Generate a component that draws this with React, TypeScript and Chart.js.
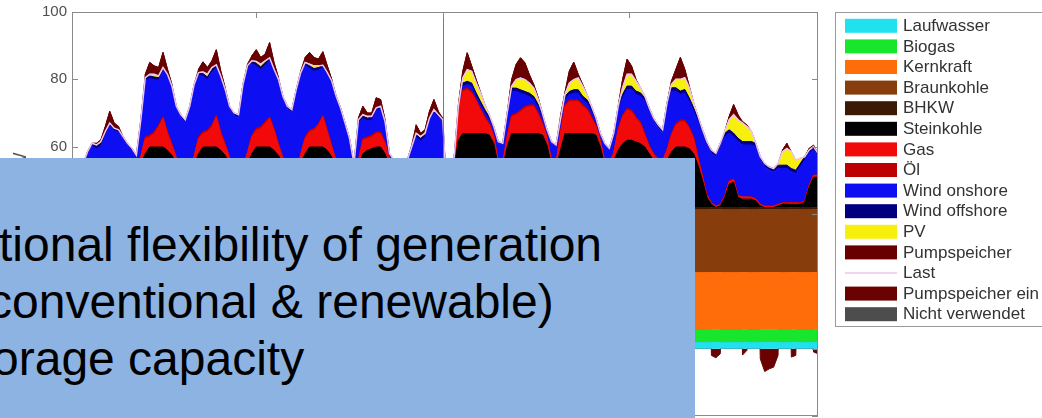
import React, { useEffect, useRef } from 'react';
import { Chart, registerables } from 'chart.js';
Chart.register(...registerables);

// x categories: simulation hours (axis runs 1..337; week 1 on even hours, week 2 on odd hours)
const hoursWeek1 = Array.from({ length: 84 }, (_, i) => 2 + 2 * i);
const hoursWeek2 = Array.from({ length: 85 }, (_, i) => 169 + 2 * i);
const hours = [...hoursWeek1, ...hoursWeek2];
const xMin = 1;
const xMax = 337;
const xTickHours = [84, 168, 252];
const weekBoundary = 168;

// series values in GW (one row per day)
const laufwasser = [
  1.8,1.8,1.8,1.8,1.8,1.8,1.8,1.8,1.8,1.8,1.8,1.8, 1.8,1.8,1.8,1.8,1.8,1.8,1.8,1.8,1.8,1.8,1.8,1.8,
  1.8,1.8,1.8,1.8,1.8,1.8,1.8,1.8,1.8,1.8,1.8,1.8, 1.8,1.8,1.8,1.8,1.8,1.8,1.8,1.8,1.8,1.8,1.8,1.8,
  1.8,1.8,1.8,1.8,1.8,1.8,1.8,1.8,1.8,1.8,1.8,1.8, 1.8,1.8,1.8,1.8,1.8,1.8,1.8,1.8,1.8,1.8,1.8,1.8,
  1.8,1.8,1.8,1.8,1.8,1.8,1.8,1.8,1.8,1.8,1.8,1.8, 1.8,1.8,1.8,1.8,1.8,1.8,1.8,1.8,1.8,1.8,1.8,1.8,
  1.8,1.8,1.8,1.8,1.8,1.8,1.8,1.8,1.8,1.8,1.8,1.8, 1.8,1.8,1.8,1.8,1.8,1.8,1.8,1.8,1.8,1.8,1.8,1.8,
  1.8,1.8,1.8,1.8,1.8,1.8,1.8,1.8,1.8,1.8,1.8,1.8, 1.8,1.8,1.8,1.8,1.8,1.8,1.8,1.8,1.8,1.8,1.8,1.8,
  1.8,1.8,1.8,1.8,1.8,1.8,1.8,1.8,1.8,1.8,1.8,1.8, 1.8,1.8,1.8,1.8,1.8,1.8,1.8,1.8,1.8,1.8,1.8,1.8, 1.8,
];
const biogas = [
  3.8,3.8,3.8,3.8,3.8,3.8,3.8,3.8,3.8,3.8,3.8,3.8, 3.8,3.8,3.8,3.8,3.8,3.8,3.8,3.8,3.8,3.8,3.8,3.8,
  3.8,3.8,3.8,3.8,3.8,3.8,3.8,3.8,3.8,3.8,3.8,3.8, 3.8,3.8,3.8,3.8,3.8,3.8,3.8,3.8,3.8,3.8,3.8,3.8,
  3.8,3.8,3.8,3.8,3.8,3.8,3.8,3.8,3.8,3.8,3.8,3.8, 3.8,3.8,3.8,3.8,3.8,3.8,3.8,3.8,3.8,3.8,3.8,3.8,
  3.8,3.8,3.8,3.8,3.8,3.8,3.8,3.8,3.8,3.8,3.8,3.8, 3.8,3.8,3.8,3.8,3.8,3.8,3.8,3.8,3.8,3.8,3.8,3.8,
  3.8,3.8,3.8,3.8,3.8,3.8,3.8,3.8,3.8,3.8,3.8,3.8, 3.8,3.8,3.8,3.8,3.8,3.8,3.8,3.8,3.8,3.8,3.8,3.8,
  3.8,3.8,3.8,3.8,3.8,3.8,3.8,3.8,3.8,3.8,3.8,3.8, 3.8,3.8,3.8,3.8,3.8,3.8,3.8,3.8,3.8,3.8,3.8,3.8,
  3.8,3.8,3.8,3.8,3.8,3.8,3.8,3.8,3.8,3.8,3.8,3.8, 3.8,3.8,3.8,3.8,3.8,3.8,3.8,3.8,3.8,3.8,3.8,3.8, 3.8,
];
const kernkraft = [
  17,17,17,17,17,17,17,17,17,17,17,17, 17,17,17,17,17,17,17,17,17,17,17,17,
  17,17,17,17,17,17,17,17,17,17,17,17, 17,17,17,17,17,17,17,17,17,17,17,17,
  17,17,17,17,17,17,17,17,17,17,17,17, 17,17,17,17,17,17,17,17,17,17,17,17,
  17,17,17,17,17,17,17,17,17,17,17,17, 17,17,17,17,17,17,17,17,17,17,17,17,
  17,17,17,17,17,17,17,17,17,17,17,17, 17,17,17,17,17,17,17,17,17,17,17,17,
  17,17,17,17,17,17,17,17,17,17,17,17, 17,17,17,17,17,17,17,17,17,17,17,17,
  17,17,17,17,17,17,17,17,17,17,17,17, 17,17,17,17,17,17,17,17,17,17,17,17, 17,
];
const braunkohle = [
  18.7,18.7,18.7,18.7,18.7,18.7,18.7,18.7,18.7,18.7,18.7,18.7, 18.7,18.7,18.7,18.7,18.7,18.7,18.7,18.7,18.7,18.7,18.7,18.7,
  18.7,18.7,18.7,18.7,18.7,18.7,18.7,18.7,18.7,18.7,18.7,18.7, 18.7,18.7,18.7,18.7,18.7,18.7,18.7,18.7,18.7,18.7,18.7,18.7,
  18.7,18.7,18.7,18.7,18.7,18.7,18.7,18.7,18.7,18.7,18.7,18.7, 18.7,18.7,18.7,18.7,18.7,18.7,18.7,18.7,18.7,18.7,18.7,18.7,
  18.7,18.7,18.7,18.7,18.7,18.7,18.7,18.7,18.7,18.7,18.7,18.7, 18.7,18.7,18.7,18.7,18.7,18.7,18.7,18.7,18.7,18.7,18.7,18.7,
  18.7,18.7,18.7,18.7,18.7,18.7,18.7,18.7,18.7,18.7,18.7,18.7, 18.7,18.7,18.7,18.7,18.7,18.7,18.7,18.7,18.7,18.7,18.7,18.7,
  18.7,18.7,18.7,18.7,18.7,18.7,18.7,18.7,18.7,18.7,18.7,18.7, 18.7,18.7,18.7,18.7,18.7,18.7,18.7,18.7,18.7,18.7,18.7,18.7,
  18.7,18.7,18.7,18.7,18.7,18.7,18.7,18.7,18.7,18.7,18.7,18.7, 18.7,18.7,18.7,18.7,18.7,18.7,18.7,18.7,18.7,18.7,18.7,18.7, 18.7,
];
const bhkw = [
  0.6,0.6,0.6,0.6,0.6,0.6,0.6,0.6,0.6,0.6,0.6,0.6, 0.6,0.6,0.6,0.6,0.6,0.6,0.6,0.6,0.6,0.6,0.6,0.6,
  0.6,0.6,0.6,0.6,0.6,0.6,0.6,0.6,0.6,0.6,0.6,0.6, 0.6,0.6,0.6,0.6,0.6,0.6,0.6,0.6,0.6,0.6,0.6,0.6,
  0.6,0.6,0.6,0.6,0.6,0.6,0.6,0.6,0.6,0.6,0.6,0.6, 0.6,0.6,0.6,0.6,0.6,0.6,0.6,0.6,0.6,0.6,0.6,0.6,
  0.6,0.6,0.6,0.6,0.6,0.6,0.6,0.6,0.6,0.6,0.6,0.6, 0.6,0.6,0.6,0.6,0.6,0.6,0.6,0.6,0.6,0.6,0.6,0.6,
  0.6,0.6,0.6,0.6,0.6,0.6,0.6,0.6,0.6,0.6,0.6,0.6, 0.6,0.6,0.6,0.6,0.6,0.6,0.6,0.6,0.6,0.6,0.6,0.6,
  0.6,0.6,0.6,0.6,0.6,0.6,0.6,0.6,0.6,0.6,0.6,0.6, 0.6,0.6,0.6,0.6,0.6,0.6,0.6,0.6,0.6,0.6,0.6,0.6,
  0.6,0.6,0.6,0.6,0.6,0.6,0.6,0.6,0.6,0.6,0.6,0.6, 0.6,0.6,0.6,0.6,0.6,0.6,0.6,0.6,0.6,0.6,0.6,0.6, 0.6,
];
const steinkohle = [
  9,8.5,8.5,9,10.5,12,12,12,11.5,11.5,12,11,
  11,10,10,13,16,18,18,18,18,17,15.5,13,
  11,10,10,13,16,18,18,18,18,17,15.5,13,
  11,10,10,13,16,18,18,18,18,17,15.5,13,
  11,10,10,13,16,18,18,18,18,17,15,12,
  11,10,9.5,9.5,12,16,17,17.5,18,18,16,12.5,
  10.5,10,9.5,9.5,10.5,11.5,11.5,11.5,11.5,11.5,11.5,11,
  11.5,11.5,11.5,20,22,22,22,22,22,22,21.5,19,
  12.5,12,18,22,22,22,22,22,22,22,21.5,18.5,
  12.5,12,17,22,22,22,22,22,22,22,21.5,18,
  12.5,12,14,17,19,20,20,19.5,19,18,16,14,
  13,12.5,14,16.5,18,18,18,17.5,16,12.5,8,3,
  1,0,0.5,3,7,7.5,3,2.5,2.5,2.5,2,0.5,
  0,0,0,0.5,1,1,1,1,1,1.5,6,9,9,
];
const gas = [
  1,1,1,1,1.5,2,2,2,2,2,2,1.5,
  1,1,1,2,4.5,3,4,6,8.5,5,3,1.5,
  1,1,1,2,4.5,4,4.5,6,9,5,3,1.5,
  1,1,1.5,3,5,5,5.5,7,8.5,6,3,1.5,
  1,1,1,2.5,4.5,4.5,5,6.5,9,5.5,3,1.5,
  1,1,1,1,2,4,3.5,3.5,4,4,3,1.5,
  1,1,1,1,1.5,2,2,2,2.5,2.5,2,1.5,
  1,1,1,8,12.5,13,12,9.6,7,4.5,3,2,
  1,1,3,5,5.5,6.5,7.5,8,8,5.6,3,2,
  1,1,5,8,9.5,9.5,9.5,8.1,7,4.5,2.5,1.5,
  1,1,2,6,8,9,8.5,7,6,3.5,2,1.5,
  1,1,3,5,6.5,7.5,7.5,6,4.5,2,1,0.5,
  0.3,0.3,0.3,0.5,0.8,0.8,0.5,0.5,0.5,0.5,0.5,0.3,
  0.3,0.3,0.3,0.3,0.3,0.3,0.3,0.3,0.3,0.3,0.5,0.5,0.5,
];
const oel = [
  0.5,0.5,0.5,0.5,0.5,0.5,0.5,0.5,0.5,0.5,0.5,0.5, 0.5,0.5,0.5,0.5,0.5,0.5,0.5,0.5,0.5,0.5,0.5,0.5,
  0.5,0.5,0.5,0.5,0.5,0.5,0.5,0.5,0.5,0.5,0.5,0.5, 0.5,0.5,0.5,0.5,0.5,0.5,0.5,0.5,0.5,0.5,0.5,0.5,
  0.5,0.5,0.5,0.5,0.5,0.5,0.5,0.5,0.5,0.5,0.5,0.5, 0.5,0.5,0.5,0.5,0.5,0.5,0.5,0.5,0.5,0.5,0.5,0.5,
  0.5,0.5,0.5,0.5,0.5,0.5,0.5,0.5,0.5,0.5,0.5,0.5, 0.5,0.5,0.5,0.5,0.5,0.5,0.5,0.5,0.5,0.5,0.5,0.5,
  0.5,0.5,0.5,0.5,0.5,0.5,0.5,0.5,0.5,0.5,0.5,0.5, 0.5,0.5,0.5,0.5,0.5,0.5,0.5,0.5,0.5,0.5,0.5,0.5,
  0.5,0.5,0.5,0.5,0.5,0.5,0.5,0.5,0.5,0.5,0.5,0.5, 0.5,0.5,0.5,0.5,0.5,0.5,0.5,0.5,0.5,0.5,0.5,0.3,
  0.2,0.2,0.2,0.2,0.2,0.2,0.2,0.2,0.2,0.2,0.2,0.2, 0.2,0.2,0.2,0.2,0.2,0.2,0.2,0.2,0.2,0.2,0.2,0.2, 0.2,
];
const windOnshore = [
  1.8,1.3,2.3,5.3,5.8,3.0,3.8,7.0,10.3,8.8,7.8,7.3,
  5.8,5.3,3.3,9.8,16.8,16.8,15.5,13.3,13.8,16.3,16.3,14.3,
  14.3,13.8,17.8,20.3,18.3,16.5,15.0,15.8,14.1,15.8,15.3,14.3,
  14.8,15.3,23.8,24.8,21.3,18.6,17.0,16.8,16.7,16.8,18.3,17.3,
  16.8,16.8,22.8,23.3,21.3,18.3,17.0,15.8,14.0,16.3,18.3,18.3,
  16.3,12.8,8.8,1.3,10.8,5.9,4.8,4.4,6.3,6.8,5.3,0.8,
  1.3,1.8,2.3,2.3,4.8,6.9,5.8,6.9,11.3,13.8,12.8,12.3,
  0.6,0.6,0.6,0.6,1,1,1.5,1,1,1,1,1.5,
  5.1,5.1,5.6,7,6.5,5,3.5,2.5,1.5,1.5,1.5,1.1,
  5.1,4.6,2.6,1.5,1.5,2,2,1.5,1.5,1.5,1.1,1.1,
  4.6,3.6,4.6,5.6,5.1,5.6,6.1,6.6,7.6,9.6,10.1,9.6,
  9.1,8.1,12.6,12.6,9.6,7.6,8.1,7.6,7.6,10.6,12.6,14.8,
  14.6,14.6,17.1,17.4,14.1,12.6,15.9,15.4,15.4,15.4,15.4,13.1,
  11.6,10.6,10.1,10.6,10.1,10.1,9.1,8.6,10.6,12.1,9.4,7.4,5.4,
];
const windOffshore = [
  0.8,0.8,0.8,0.8,0.8,0.8,0.8,0.8,0.8,0.8,0.8,0.8, 0.8,0.8,0.8,0.8,0.8,0.8,0.8,0.8,0.8,0.8,0.8,0.8,
  0.8,0.8,0.8,0.8,0.8,0.8,0.8,0.8,0.8,0.8,0.8,0.8, 0.8,0.8,0.8,0.8,0.8,0.8,0.8,0.8,0.8,0.8,0.8,0.8,
  0.8,0.8,0.8,0.8,0.8,0.8,0.8,0.8,0.8,0.8,0.8,0.8, 0.8,0.8,0.8,0.8,0.8,0.8,0.8,0.8,0.8,0.8,0.8,0.8,
  0.8,0.8,0.8,0.8,0.8,0.8,0.8,0.8,0.8,0.8,0.8,0.8,
  0.5,0.5,0.5,0.5,1,1,1,1,1,1,1,1,
  0.5,0.5,1,1,1,1,1,1,1,1,1,1,
  0.5,0.5,1,1,1,1,1,1,1,1,1,1,
  0.5,0.5,1,1,1,1,1,1,1,1,1,1,
  1,1,1,1,1,1,1,1,1,1,1,1,
  1,1,1,1,1,1,1,1,1,1,1,1,
  1,1,1,1,1,1,1,1,1,1,1,1,1,
];
const pv = [
  0,0,0,0,0,0.3,0.5,0.3,0,0,0,0,
  0,0,0,0,0,0.5,0.8,0.5,0,0,0,0,
  0,0,0,0,0,0.5,0.8,0.5,0,0,0,0,
  0,0,0,0,0,0.5,0.8,0.5,0,0,0,0,
  0,0,0,0,0,0.5,0.8,0.5,0,0,0,0,
  0,0,0,0,0,0.4,0.5,0.4,0,0,0,0,
  0,0,0,0,0,0.4,0.5,0.4,0,0,0,0,
  0,0,0,0.3,1.5,3.5,3.5,3,2.5,1.5,0.5,0,
  0,0,0,0.5,2.5,3.5,3.5,3,2.5,1.5,0.2,0,
  0,0,0,0.5,2.5,3,3.5,3,1.5,0.6,0,0,
  0,0,0,0,2,3.5,3.5,3,1.5,0.5,0,0,
  0,0,0,1,2.5,3.5,3.5,3,1.5,0.5,0,0,
  0,0,0,0.5,3,5.5,5.5,5.5,4.5,3,0,0,
  0,0,0,0.5,4,5,5,3,1.5,0,0,0,0,
];
const pumpspeicher = [
  0,0,0,0,0,0.5,0.5,1.5,3.5,1.5,1,0,
  0,0,0,0,1,3.5,2.5,2.5,4.5,1.5,0.5,0,
  0,0,0,0,1,3,2,2,4.5,1.5,0.5,0,
  0,0,0,0.5,1.5,3.5,2,2,4.5,2,0.5,0,
  0,0,0,0.5,1.5,3.5,2.5,2,4,2,0.5,0,
  0,0,0,0,0.5,2.5,1,1,3,2,0.5,0,
  0,0,0,0,0.5,2.5,1,1,2,3,1,0.5,
  0,0,0,0.5,2,5,1.6,1,0.3,0,0,0,
  0,0,0,2,4.5,6,5,2.5,1,0.5,0,0,
  0,0,1,0.6,3.6,5.2,1.1,0.5,0,0,0,0,
  0,0,0,0,2.5,4.5,2.5,0.5,0,0,0,0,
  0,0,0,1,3,6.5,2.5,0.5,0,0,0,0,
  0,0,0,0,1,3,1.5,0.5,0.5,0,0,0,
  0,0,0,0,0.5,1.5,0,0,0,0,0.5,0.5,0,
];
const last = [
  55,54,55,58.5,61,60.5,61.5,64.5,67,65.5,65,63,
  61,59.5,57.5,68,80.5,81.5,81.5,81,83.5,81.5,78,72,
  69.5,68,72,78.5,82,82.2,81.5,83.5,84.3,81,77,72,
  70,69.5,78.5,84,85.5,85.3,84.5,85.5,86.4,83,80,75,
  72,71,77,82,85,84.5,84,84,84.2,82,79.5,75,
  71.5,67,62.5,55,68,69.5,69,69,71.5,72,67.5,58,
  56,56,56,56,60,64,63,64,68.5,71,69.5,68,
  56,56,56,71.8,80.4,82.9,82.4,79,75.9,72.4,69.4,65.9,
  61.5,61,70,77.9,79.9,80.4,79.9,78.9,77.4,74,69.6,65,
  61.5,60.5,68,75.4,78.9,79.9,80.4,78,75.4,72,68.5,64,
  61,59.5,64,72,77.5,81.5,81.5,79.5,77.5,75,71.5,68.5,
  66.5,65,73,78.5,80,80,80.5,77.5,73,69,65,61.5,
  59,58,61,64.5,68,69.5,68,67,66,64.5,61,57,
  55,54,53.5,55,58.5,59.5,58.5,56,56.5,57,59,60,58,
];
const pumpspeicherEin = [
  -2,-3,-3,-1,0,0,0,0,0,0,0,-1,
  -3,-4,-4,-1.5,0,0,0,0,0,0,0,-1.5,
  -3,-4,-3.5,-1,0,0,0,0,0,0,0,-1.5,
  -3,-3.5,-3,-1,0,0,0,0,0,0,0,-1.5,
  -3,-4,-3.5,-1,0,0,0,0,0,0,0,-1.5,
  -2.5,-3.5,-4,-3,0,0,0,0,0,0,0,-2,
  -3,-4,-4.5,-3.5,-1,0,0,0,0,0,0,-1,
  -2,-4,-3,0,0,0,0,0,0,0,0,-1,
  -2.5,-3,0,0,0,0,0,0,0,0,0,-1,
  -2.5,-3,0,0,0,0,0,0,0,0,0,-1,
  -2.5,-3.5,-1,0,0,0,0,0,0,0,0,-0.5,
  -1.5,-2,0,0,0,0,0,0,0,0,0,0,
  -2,-2.7,-1.5,0,0,0,0,-1.9,-0.5,0,0,-3,
  -6.8,-6,-5.5,-2,0,0,-2.5,-2,0,0,0,-1,-1.5,
];
const nichtVerwendet: number[] = [];

const yTickLabels = [-20, 0, 20, 40, 60, 80, 100];
const yAxisTitle = 'Leistung in GW';

const FONT = '"Liberation Sans", Arial, Helvetica, sans-serif';

const framePlugin = {
  id: 'matlabFrame',
  afterDatasetsDraw(chart: any) {
    const { ctx, chartArea: a, scales } = chart;
    ctx.save();
    ctx.strokeStyle = '#8a8a8a';
    ctx.lineWidth = 1;
    ctx.strokeRect(a.left + 0.5, a.top + 0.5, a.right - a.left - 1, a.bottom - a.top - 1);
    const xb = Math.round(scales.x.getPixelForValue(weekBoundary)) + 0.5;
    ctx.strokeStyle = '#7a7a7a';
    ctx.beginPath();
    ctx.moveTo(xb, a.top);
    ctx.lineTo(xb, a.bottom);
    ctx.stroke();
    ctx.strokeStyle = '#8a8a8a';
    ctx.beginPath();
    yTickLabels.forEach((v) => {
      const y = Math.round(scales.y.getPixelForValue(v)) + 0.5;
      ctx.moveTo(a.left, y);
      ctx.lineTo(a.left + 6, y);
      ctx.moveTo(a.right - 6, y);
      ctx.lineTo(a.right, y);
    });
    xTickHours.forEach((h) => {
      const x = Math.round(scales.x.getPixelForValue(h)) + 0.5;
      ctx.moveTo(x, a.top);
      ctx.lineTo(x, a.top + 6);
      ctx.moveTo(x, a.bottom - 6);
      ctx.lineTo(x, a.bottom);
    });
    ctx.stroke();
    ctx.restore();
  },
};

const legendPlugin = {
  id: 'boxedLegend',
  afterDraw(chart: any) {
    const { ctx, chartArea: a } = chart;
    const left = a.right + 17;
    const top = a.top;
    const rowH = 20.6;
    ctx.save();
    ctx.fillStyle = '#ffffff';
    ctx.fillRect(left, top, 240, 314);
    ctx.strokeStyle = '#9a9a9a';
    ctx.lineWidth = 1;
    ctx.strokeRect(Math.round(left) + 0.5, Math.round(top) + 0.5, 240, 314);
    ctx.font = `17px ${FONT}`;
    ctx.textBaseline = 'middle';
    chart.data.datasets.forEach((ds: any, i: number) => {
      const cy = top + 13.8 + i * rowH;
      const sx = left + 10;
      if (ds.legendLine) {
        ctx.strokeStyle = ds.borderColor;
        ctx.lineWidth = 1.5;
        ctx.beginPath();
        ctx.moveTo(sx, cy);
        ctx.lineTo(sx + 52, cy);
        ctx.stroke();
      } else {
        ctx.fillStyle = ds.swatch;
        ctx.fillRect(sx, cy - 7, 52, 14);
      }
      ctx.fillStyle = '#333333';
      ctx.fillText(ds.label, sx + 58, cy + 0.5);
    });
    ctx.restore();
  },
};

function area(label: string, data: number[], color: string, fill: any) {
  return {
    label,
    data,
    backgroundColor: color,
    borderColor: color,
    swatch: color,
    borderWidth: 1,
    pointRadius: 0,
    tension: 0,
    fill,
  };
}

export default function App() {
  const ref = useRef<HTMLCanvasElement>(null);
  useEffect(() => {
    if (!ref.current) return;
    const chart = new Chart(ref.current, {
      type: 'line',
      data: {
        labels: hours,
        datasets: [
          area('Laufwasser', laufwasser, '#1fe2ee', 'origin'),
          area('Biogas', biogas, '#18e62c', '-1'),
          area('Kernkraft', kernkraft, '#ff6d0a', '-1'),
          area('Braunkohle', braunkohle, '#873d0c', '-1'),
          area('BHKW', bhkw, '#3d1805', '-1'),
          area('Steinkohle', steinkohle, '#000000', '-1'),
          area('Gas', gas, '#f20a0a', '-1'),
          area('Öl', oel, '#bf0000', '-1'),
          area('Wind onshore', windOnshore, '#0e0ef2', '-1'),
          area('Wind offshore', windOffshore, '#00007f', '-1'),
          area('PV', pv, '#f7f00c', '-1'),
          area('Pumpspeicher', pumpspeicher, '#680000', '-1'),
          {
            label: 'Last',
            data: last,
            borderColor: '#edc6ed',
            backgroundColor: '#edc6ed',
            borderWidth: 1.5,
            pointRadius: 0,
            fill: false,
            stack: 'last',
            order: -1,
            legendLine: true,
          } as any,
          area('Pumpspeicher ein', pumpspeicherEin, '#6a0202', 'origin'),
          { ...area('Nicht verwendet', nichtVerwendet, '#4d4d4d', false) },
        ],
      },
      options: {
        responsive: false,
        animation: false,
        devicePixelRatio: 1,
        layout: { padding: { top: 12, right: 224, bottom: 2, left: 0 } },
        plugins: { legend: { display: false }, tooltip: { enabled: false } },
        scales: {
          x: { type: 'linear', min: xMin, max: xMax, display: false },
          y: {
            stacked: true,
            min: -20,
            max: 100,
            afterFit: (s: any) => { s.width = 72; s.paddingTop = 0; s.paddingBottom = 0; },
            afterBuildTicks: (s: any) => { s.ticks = yTickLabels.map((v) => ({ value: v })); },
            grid: { display: false, drawTicks: false },
            border: { display: false },
            title: {
              display: true,
              text: yAxisTitle,
              color: '#555555',
              font: { family: FONT, size: 18 },
              padding: { top: 10, bottom: 0 },
            },
            ticks: { padding: 5, color: '#4f4f4f', font: { family: FONT, size: 15 } },
          },
        },
      } as any,
      plugins: [framePlugin, legendPlugin],
    });
    return () => chart.destroy();
  }, []);

  const lineStyle: React.CSSProperties = { position: 'absolute', whiteSpace: 'nowrap', lineHeight: '48px' };
  return (
    <div style={{ position: 'fixed', left: 0, top: 0, width: 1042, height: 418, overflow: 'hidden', background: '#ffffff' }}>
      <canvas ref={ref} width={1042} height={418} style={{ display: 'block' }} />
      <div
        style={{
          position: 'absolute', left: 0, top: 158, width: 695, height: 260,
          background: '#8db3e2', overflow: 'hidden', fontFamily: FONT, fontSize: 48, color: '#000000',
        }}
      >
        <div style={{ ...lineStyle, left: -1, top: 63 }}>tional flexibility of generation</div>
        <div style={{ ...lineStyle, left: -12, top: 120 }}>conventional &amp; renewable)</div>
        <div style={{ ...lineStyle, left: -8, top: 177 }}>orage capacity</div>
      </div>
    </div>
  );
}
